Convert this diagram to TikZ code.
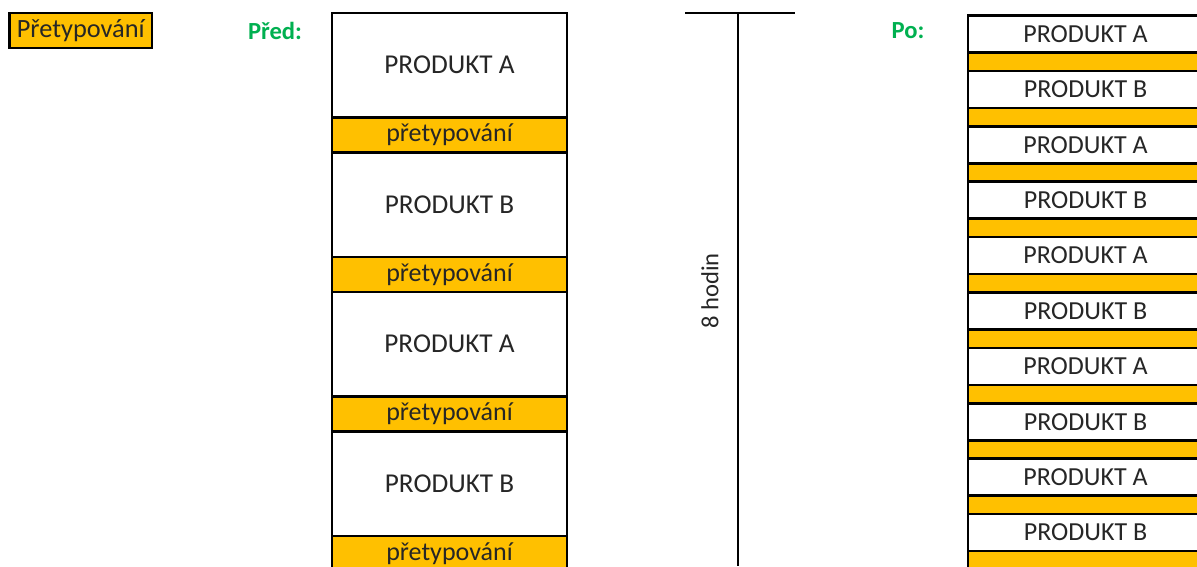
\documentclass[tikz,border=0pt]{standalone}
\usepackage{fontspec}
\setmainfont{Carlito}
\usepackage{xcolor}
\usetikzlibrary{positioning}

\definecolor{pretorange}{HTML}{FFC000}
\definecolor{nadpisgreen}{HTML}{00B050}

\tikzset{
  blok/.style={draw, line width=1.5pt, outer sep=0pt, inner sep=0pt, minimum width=4.7cm, text=black!85},
  produkt/.style={blok, fill=white, font=\fontsize{15.5}{18}\selectfont},
  pretyp/.style={blok, fill=pretorange, font=\fontsize{14.8}{17}\selectfont},
  nadpis/.style={font=\fontsize{14}{17}\selectfont\bfseries, text=nadpisgreen},
}

\begin{document}
\begin{tikzpicture}
  \useasboundingbox (0,0) rectangle (23.94,11.32);
  \clip (0,0) rectangle (23.94,11.32);

  % LEGENDA
  \node[blok, fill=pretorange, minimum width=2.85cm, minimum height=0.7cm, font=\fontsize{15}{18}\selectfont] (legenda) at (1.615,10.71) {Přetypování};

  % PRED
  \node[nadpis] (pred) at (5.5,10.70) {Před:};
  \node[produkt, minimum height=2.09cm, anchor=north] (predA1) at (8.99,11.06) {PRODUKT A};
  \node[pretyp, minimum height=0.7cm, below=0pt of predA1] (predP1) {přetypování};
  \node[produkt, minimum height=2.09cm, below=0pt of predP1] (predB1) {PRODUKT B};
  \node[pretyp, minimum height=0.7cm, below=0pt of predB1] (predP2) {přetypování};
  \node[produkt, minimum height=2.09cm, below=0pt of predP2] (predA2) {PRODUKT A};
  \node[pretyp, minimum height=0.7cm, below=0pt of predA2] (predP3) {přetypování};
  \node[produkt, minimum height=2.09cm, below=0pt of predP3] (predB2) {PRODUKT B};
  \node[pretyp, minimum height=0.7cm, below=0pt of predB2] (predP4) {přetypování};

  % CAS
  \coordinate (casL) at (13.70,11.06);
  \coordinate (casR) at (15.90,11.06);
  \coordinate (casT) at (14.76,11.06);
  \coordinate (casB) at (14.76,0);
  \draw[line width=1.6pt] (casL) -- (casR);
  \draw[line width=1.6pt] (casT) -- (casB);
  \node[rotate=90, font=\fontsize{14}{17}\selectfont, text=black!85] (hodin) at (14.2,5.5) {8 hodin};

  % PO
  \node[nadpis] (po) at (18.16,10.70) {Po:};
  \foreach \i/\p in {0/A,1/B,2/A,3/B,4/A,5/B,6/A,7/B,8/A,9/B} {
    \node[produkt, minimum height=0.74cm, anchor=north west, font=\fontsize{14.8}{17}\selectfont] (po\i) at (19.36,11.01-1.108*\i) {PRODUKT \p};
    \node[pretyp, minimum height=0.368cm, below=0pt of po\i] (poP\i) {};
  }
\end{tikzpicture}
\end{document}
